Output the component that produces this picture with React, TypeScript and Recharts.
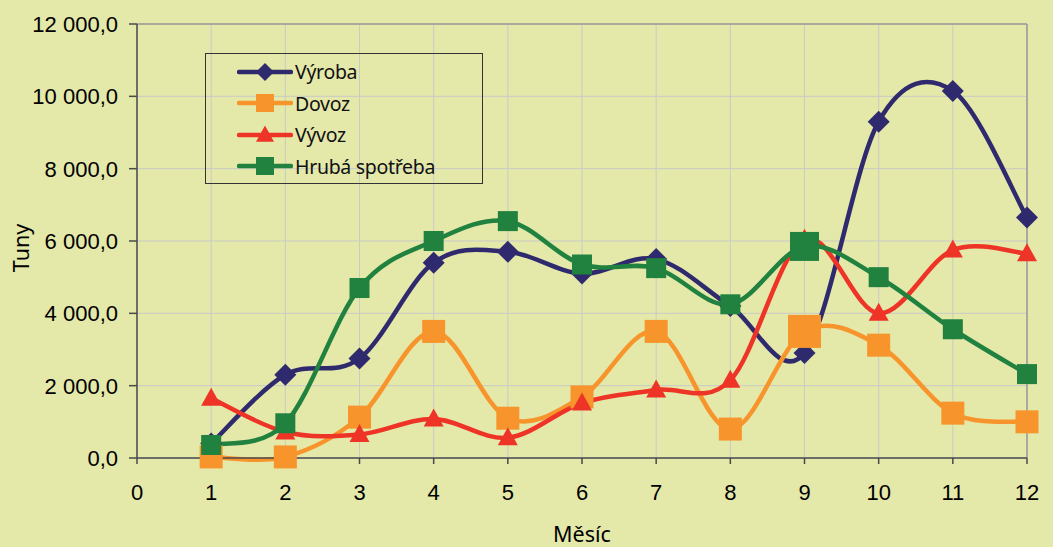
import React from "react";
import { LineChart, Line, XAxis, YAxis, CartesianGrid, ReferenceLine, Legend } from "recharts";

const months = [1, 2, 3, 4, 5, 6, 7, 8, 9, 10, 11, 12];
const vyroba = [400, 2300, 2750, 5400, 5700, 5100, 5500, 4200, 2900, 9300, 10150, 6650];
const dovoz = [30, 30, 1130, 3500, 1100, 1690, 3500, 800, 3500, 3120, 1240, 1000];
const vyvoz = [1650, 720, 650, 1080, 560, 1520, 1880, 2150, 6050, 4000, 5750, 5650];
const hruba = [360, 960, 4700, 6000, 6550, 5350, 5250, 4250, 5850, 5000, 3560, 2320];
const xTicks = [0, 1, 2, 3, 4, 5, 6, 7, 8, 9, 10, 11, 12];
const yTicks = [0, 2000, 4000, 6000, 8000, 10000, 12000];

const data = months.map((m, i) => ({
  month: m,
  vyroba: vyroba[i],
  dovoz: dovoz[i],
  vyvoz: vyvoz[i],
  hruba: hruba[i],
}));

const series = [
  { key: "vyroba", name: "Výroba", color: "#2f2a6d", shape: "diamond", size: 11, big: 11 },
  { key: "dovoz", name: "Dovoz", color: "#f7952c", shape: "square", size: 11.5, big: 16.5 },
  { key: "vyvoz", name: "Vývoz", color: "#ee3427", shape: "triangle", size: 10, big: 10 },
  { key: "hruba", name: "Hrubá spotřeba", color: "#218240", shape: "square", size: 10, big: 14.5 },
];

const BG = "#e4e8a9";
const AXIS_FONT = "'Liberation Sans', Arial, sans-serif";
const TEXT_FONT = "'Noto Sans', 'Open Sans', sans-serif";

// excel style smoothing (catmull-rom through the points)
const excelCurve = (context: any) => {
  let pts: number[][] = [];
  return {
    areaStart() {},
    areaEnd() {},
    lineStart() {
      pts = [];
    },
    point(x: number, y: number) {
      pts.push([+x, +y]);
    },
    lineEnd() {
      if (!pts.length) return;
      context.moveTo(pts[0][0], pts[0][1]);
      for (let i = 0; i < pts.length - 1; i++) {
        const p0 = pts[Math.max(i - 1, 0)];
        const p1 = pts[i];
        const p2 = pts[i + 1];
        const p3 = pts[Math.min(i + 2, pts.length - 1)];
        context.bezierCurveTo(
          p1[0] + (p2[0] - p0[0]) / 6,
          p1[1] + (p2[1] - p0[1]) / 6,
          p2[0] - (p3[0] - p1[0]) / 6,
          p2[1] - (p3[1] - p1[1]) / 6,
          p2[0],
          p2[1]
        );
      }
    },
  };
};

function Marker({ shape, cx, cy, r, color }: any) {
  if (shape === "diamond") {
    return <polygon points={`${cx},${cy - r} ${cx + r},${cy} ${cx},${cy + r} ${cx - r},${cy}`} fill={color} />;
  }
  if (shape === "triangle") {
    return <polygon points={`${cx},${cy - r * 1.05} ${cx + r},${cy + r * 0.75} ${cx - r},${cy + r * 0.75}`} fill={color} />;
  }
  return <rect x={cx - r} y={cy - r} width={r * 2} height={r * 2} fill={color} />;
}

const fmt = (v: number) => {
  const [int, dec] = v.toFixed(1).split(".");
  return int.replace(/\B(?=(\d{3})+(?!\d))/g, " ") + "," + dec;
};

const XTick = ({ x, y, payload }: any) => (
  <text x={x} y={y} dy={16} textAnchor="middle" fontSize={22} fontFamily={AXIS_FONT} fill="#000">
    {payload.value}
  </text>
);

const YTick = ({ x, y, payload }: any) => (
  <text x={x} y={y} dy={8} textAnchor="end" fontSize={22} fontFamily={AXIS_FONT} fill="#000">
    {fmt(payload.value)}
  </text>
);

const renderLegend = () => (
  <div
    style={{
      width: 278,
      height: 131,
      boxSizing: "border-box",
      border: "1px solid #333",
      padding: "2px 0 0 31px",
      fontFamily: TEXT_FONT,
      fontSize: 19.5,
      color: "#111",
    }}
  >
    {series.map((s) => (
      <div key={s.key} style={{ display: "flex", alignItems: "center", height: 31.5 }}>
        <svg width={56} height={26} style={{ marginRight: 2 }}>
          <line x1={2} y1={13} x2={54} y2={13} stroke={s.color} strokeWidth={4.5} strokeLinecap="round" />
          <Marker shape={s.shape} cx={28} cy={13} r={9} color={s.color} />
        </svg>
        <span style={{ letterSpacing: -0.3 }}>{s.name}</span>
      </div>
    ))}
  </div>
);

export default function App() {
  return (
    <div style={{ position: "absolute", left: 0, top: 0, width: 1053, height: 547, background: BG, overflow: "hidden" }}>
      <LineChart width={1053} height={547} data={data} margin={{ top: 24, right: 26, bottom: 0, left: 10 }}>
        <CartesianGrid stroke="#c9cbc4" strokeWidth={1} />
        <ReferenceLine y={12000} stroke="#9a9a94" strokeWidth={1.5} />
        <ReferenceLine x={12} stroke="#9a9a94" strokeWidth={1.5} />
        <XAxis
          dataKey="month"
          type="number"
          domain={[0, 12]}
          ticks={xTicks}
          interval={0}
          height={89}
          tickSize={6}
          tickMargin={20}
          stroke="#4a4a4a"
          strokeWidth={1.5}
          tick={<XTick />}
          label={(props: any) => {
            const vb = props.viewBox;
            return (
              <text
                x={vb.x + vb.width / 2}
                y={vb.y + vb.height - 5}
                textAnchor="middle"
                fontSize={21.5}
                fontFamily={TEXT_FONT}
                fill="#000"
              >
                Měsíc
              </text>
            );
          }}
        />
        <YAxis
          type="number"
          domain={[0, 12000]}
          ticks={yTicks}
          interval={0}
          width={127}
          tickSize={8}
          tickMargin={11}
          stroke="#4a4a4a"
          strokeWidth={1.5}
          tick={<YTick />}
          label={(props: any) => {
            const vb = props.viewBox;
            const x = vb.x + 10;
            const y = vb.y + vb.height / 2 + 7;
            return (
              <text
                x={x}
                y={y}
                transform={`rotate(-90 ${x} ${y})`}
                textAnchor="middle"
                dominantBaseline="central"
                fontSize={21.5}
                fontFamily={TEXT_FONT}
                fill="#000"
              >
                Tuny
              </text>
            );
          }}
        />
        <Legend
          layout="vertical"
          align="center"
          verticalAlign="middle"
          content={renderLegend}
          wrapperStyle={{ left: 205, top: 53, width: 278, height: 131 }}
        />
        {series.map((s) => (
          <Line
            key={s.key}
            dataKey={s.key}
            name={s.name}
            type={excelCurve as any}
            stroke={s.color}
            strokeWidth={4.5}
            isAnimationActive={false}
            activeDot={false}
            dot={(p: any) => (
              <Marker
                key={`${s.key}-${p.index}`}
                shape={s.shape}
                cx={p.cx}
                cy={p.cy}
                r={p.index === 8 ? s.big : s.size}
                color={s.color}
              />
            )}
          />
        ))}
      </LineChart>
    </div>
  );
}
